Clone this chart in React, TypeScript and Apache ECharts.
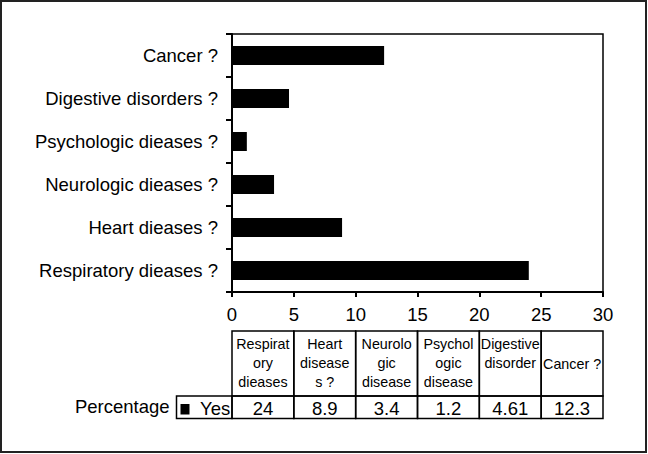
import React, { useEffect, useRef } from 'react';
import * as echarts from 'echarts';

const categories = [
  'Respiratory dieases ?',
  'Heart dieases ?',
  'Neurologic dieases ?',
  'Psychologic dieases ?',
  'Digestive disorders ?',
  'Cancer ?',
];
const yesValues = [24, 8.9, 3.4, 1.2, 4.61, 12.3];
const tableHeaders = [
  'Respirat\nory\ndieases',
  'Heart\ndisease\ns ?',
  'Neurolo\ngic\ndisease',
  'Psychol\nogic\ndisease',
  'Digestive\ndisorder',
  'Cancer ?',
];
const headerVAlign = ['top', 'top', 'top', 'top', 'top', 'middle'];
const seriesName = 'Yes';
const rowLabel = 'Percentage';
const xMin = 0;
const xMax = 30;
const xInterval = 5;

const FONT = '"Liberation Sans", Arial, Helvetica, sans-serif';
const BIG = 18.5;
const SMALL = 14.3;

export default function App() {
  const ref = useRef<HTMLDivElement>(null);
  useEffect(() => {
    if (!ref.current) return;
    const chart = echarts.init(ref.current, undefined, { renderer: 'svg' });
    const axisLine = { show: true, lineStyle: { color: '#000', width: 2 } };
    chart.setOption({
      animation: false,
      backgroundColor: '#fff',
      textStyle: { fontFamily: FONT },
      grid: {
        left: 232,
        top: 34,
        width: 371,
        height: 258,
        show: true,
        borderColor: '#000',
        borderWidth: 1.5,
      },
      xAxis: {
        type: 'value',
        min: xMin,
        max: xMax,
        interval: xInterval,
        axisLine,
        axisTick: { show: true, length: 5, lineStyle: { color: '#000', width: 2 } },
        splitLine: { show: false },
        axisLabel: { color: '#000', fontSize: BIG, margin: 13, fontFamily: FONT },
      },
      yAxis: {
        type: 'category',
        data: categories,
        axisLine,
        axisTick: { show: true, length: 6, lineStyle: { color: '#000', width: 2 } },
        axisLabel: { color: '#000', fontSize: BIG, margin: 14, fontFamily: FONT },
      },
      series: [
        {
          type: 'bar',
          name: seriesName,
          data: yesValues,
          barWidth: 19,
          itemStyle: { color: '#000' },
        },
      ],
    });

    const xLeft = chart.convertToPixel({ xAxisIndex: 0 }, xMin) as number;
    const xRight = chart.convertToPixel({ xAxisIndex: 0 }, xMax) as number;
    const colW = (xRight - xLeft) / categories.length;
    const headerTop = 331;
    const rowTop = 396;
    const rowBottom = 418.5;
    const rowMid = (rowTop + rowBottom) / 2;
    const stroke = { fill: 'none', stroke: '#000', lineWidth: 1.5 };
    const elements: any[] = [
      {
        type: 'rect',
        shape: { x: 1, y: 1, width: 645, height: 451 },
        style: { fill: 'none', stroke: '#222', lineWidth: 2 },
      },
    ];
    categories.forEach((_, i) => {
      const x = xLeft + i * colW;
      elements.push({
        type: 'rect',
        shape: { x, y: headerTop, width: colW, height: rowTop - headerTop },
        style: stroke,
      });
      elements.push({
        type: 'rect',
        shape: { x, y: rowTop, width: colW, height: rowBottom - rowTop },
        style: stroke,
      });
      const va = headerVAlign[i];
      elements.push({
        type: 'text',
        x: x + colW / 2,
        y: va === 'top' ? headerTop + 3 : (headerTop + rowTop) / 2,
        style: {
          text: tableHeaders[i],
          fontSize: SMALL,
          lineHeight: 19,
          fontFamily: FONT,
          fill: '#000',
          align: 'center',
          verticalAlign: va,
        },
      });
      elements.push({
        type: 'text',
        x: x + colW / 2,
        y: rowMid + 1,
        style: {
          text: String(yesValues[i]),
          fontSize: BIG,
          fontFamily: FONT,
          fill: '#000',
          align: 'center',
          verticalAlign: 'middle',
        },
      });
    });
    // legend cell
    elements.push({
      type: 'rect',
      shape: { x: 176.5, y: rowTop, width: xLeft - 176.5, height: rowBottom - rowTop },
      style: stroke,
    });
    elements.push({
      type: 'rect',
      shape: { x: 180.5, y: 404, width: 9, height: 10.5 },
      style: { fill: '#000' },
    });
    elements.push({
      type: 'text',
      x: 200,
      y: rowMid + 1,
      style: {
        text: seriesName,
        fontSize: BIG,
        fontFamily: FONT,
        fill: '#000',
        align: 'left',
        verticalAlign: 'middle',
      },
    });
    elements.push({
      type: 'text',
      x: 169.5,
      y: 406,
      style: {
        text: rowLabel,
        fontSize: BIG,
        fontFamily: FONT,
        fill: '#000',
        align: 'right',
        verticalAlign: 'middle',
      },
    });
    chart.setOption({ graphic: { elements } });
    return () => chart.dispose();
  }, []);
  return (
    <div
      ref={ref}
      style={{ position: 'fixed', left: 0, top: 0, width: 648, height: 454 }}
    />
  );
}
